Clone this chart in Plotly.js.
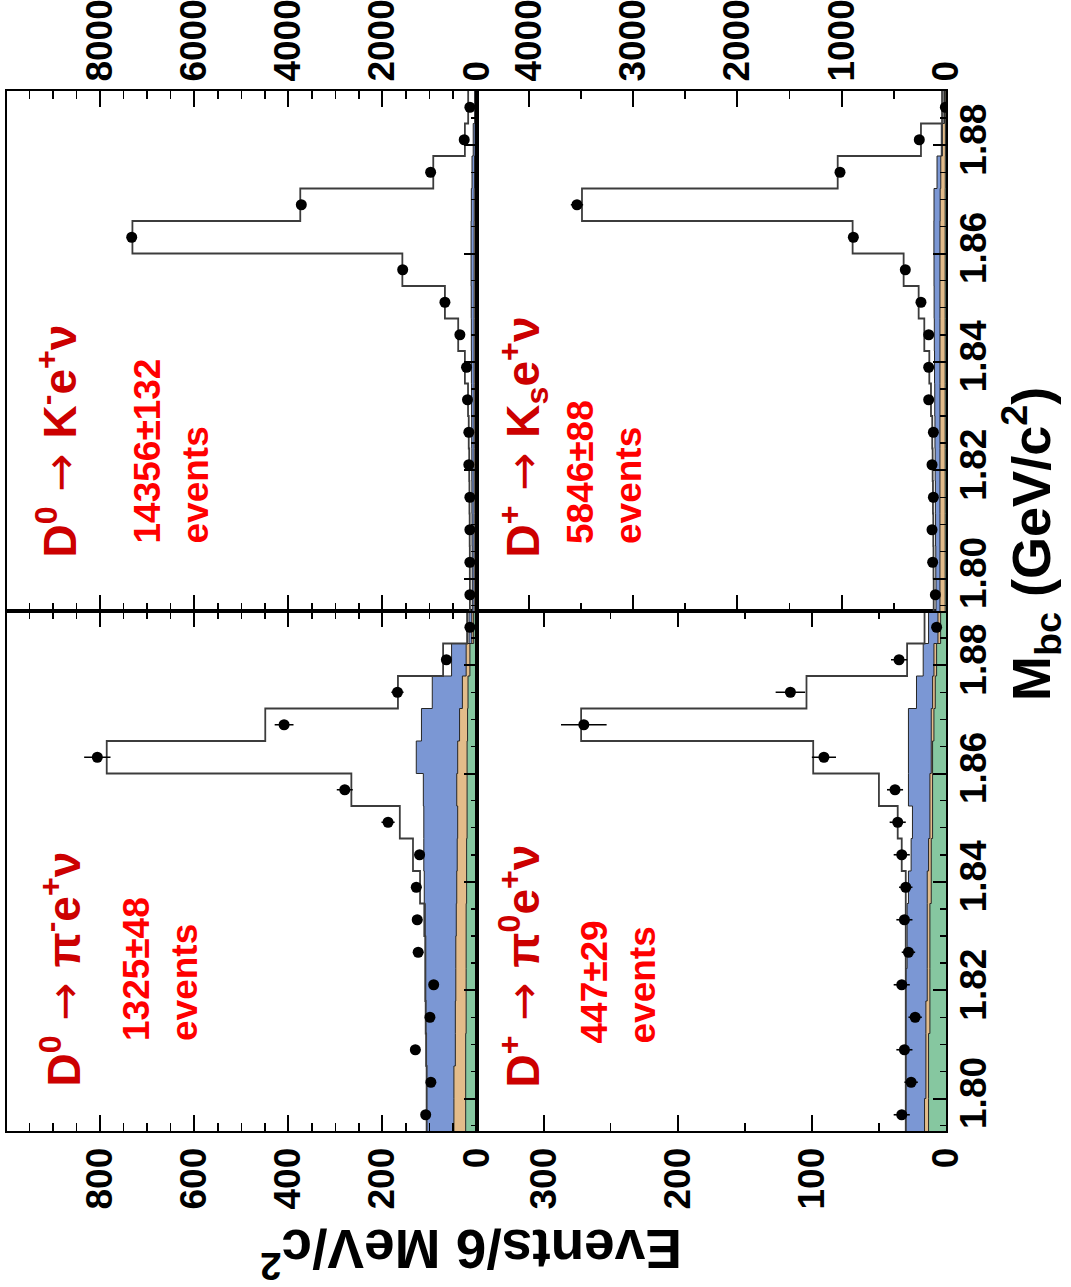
<!DOCTYPE html>
<html>
<head>
<meta charset="utf-8">
<script src="https://cdn.plot.ly/plotly-3.0.1.min.js"></script>
<style>
  html, body { margin: 0; padding: 0; background: #ffffff; }
  #chart { width: 1071px; height: 1287px; }
</style>
</head>
<body>
<div id="chart"></div>
<script>
// Mbc bin edges and centres, 6 MeV/c^2 bins (GeV/c^2)
const mbcEdges = [1.794, 1.800, 1.806, 1.812, 1.818, 1.824, 1.830, 1.836, 1.842,
                  1.848, 1.854, 1.860, 1.866, 1.872, 1.878, 1.884, 1.890];
const mbcCenters = [1.797, 1.803, 1.809, 1.815, 1.821, 1.827, 1.833, 1.839,
                    1.845, 1.851, 1.857, 1.863, 1.869, 1.875, 1.881, 1.887];

// D0 -> pi- e+ nu
const piMinusData  = [108, 97, 130, 99, 91, 124, 126, 128, 121, 188, 280, 806, 409, 168, 64, 14];
const piMinusErr   = [10, 10, 11, 10, 10, 11, 11, 11, 11, 14, 17, 28, 20, 13, 8, 4];
const piMinusFit   = [106, 106, 107, 108, 109, 109, 111, 120, 135, 163, 266, 786, 449, 167, 71, 20];
const piMinusBkgA  = [106, 106, 107, 108, 108, 108, 109, 111, 112, 112, 113, 128, 117, 94, 53, 16];
const piMinusBkgB  = [48, 48, 45, 45, 44, 44, 43, 42, 41, 40, 42, 40, 36, 30, 22, 10];
const piMinusBkgC  = [23, 23, 23, 22, 22, 22, 22, 21, 21, 20, 20, 20, 19, 18, 14, 6];

// D+ -> pi0 e+ nu
const piZeroData   = [33, 26, 31, 23, 33, 28, 31, 30, 33, 36, 38, 91, 270, 116, 35, 7];
const piZeroErr    = [6, 5, 6, 5, 6, 5, 6, 5, 6, 6, 6, 9, 17, 11, 6, 3];
const piZeroFit    = [30, 30, 30, 30, 30, 30, 30, 30, 33, 36, 50, 99, 272, 104, 29, 16];
const piZeroBkgA   = [30, 30, 30, 30, 30, 29, 29, 28, 26, 25, 28, 28, 28, 22, 17, 13];
const piZeroBkgB   = [16, 15, 15, 15, 14, 14, 14, 14, 13, 12, 12, 11, 11, 10, 9, 6];
const piZeroBkgC   = [13, 13, 13, 12, 12, 12, 12, 11, 11, 10, 10, 10, 9, 8, 7, 4];

// D0 -> K- e+ nu
const kMinusData   = [141, 141, 141, 141, 163, 163, 191, 212, 353, 671, 1569, 7329, 3724, 975, 261, 141];
const kMinusErr    = [12, 12, 12, 12, 13, 13, 14, 15, 19, 26, 40, 86, 61, 31, 16, 12];
const kMinusFit    = [140, 142, 145, 150, 155, 165, 180, 247, 389, 671, 1576, 7314, 3746, 919, 247, 177];
const kMinusBkgA   = [90, 92, 95, 98, 100, 102, 105, 108, 110, 112, 115, 115, 110, 95, 70, 40];
const kMinusBkgB   = [50, 50, 50, 50, 50, 50, 50, 50, 50, 50, 50, 50, 48, 42, 30, 15];
const kMinusBkgC   = [15, 15, 15, 15, 15, 15, 15, 15, 15, 15, 15, 15, 14, 12, 9, 5];

// D+ -> Ks e+ nu
const kShortData   = [102, 128, 134, 121, 134, 121, 166, 166, 166, 240, 390, 888, 3537, 1016, 256, 6];
const kShortErr    = [10, 11, 12, 11, 12, 11, 13, 13, 13, 15, 20, 30, 59, 32, 16, 2];
const kShortFit    = [118, 120, 122, 125, 128, 132, 144, 160, 208, 262, 406, 895, 3489, 1038, 240, 38];
const kShortBkgA   = [96, 98, 100, 102, 104, 106, 108, 110, 112, 114, 115, 116, 115, 86, 45, 20];
const kShortBkgB   = [58, 58, 58, 58, 58, 58, 58, 58, 58, 58, 58, 58, 56, 50, 35, 15];
const kShortBkgC   = [8, 8, 8, 8, 8, 8, 8, 8, 8, 8, 8, 8, 8, 7, 6, 3];

// Panel labels
const ARROW = '<span style="font-family:DejaVu Sans;font-weight:normal"> → </span>';
const decayLabels = [
  'D<sup>0</sup>' + ARROW + 'π<sup>-</sup>e<sup>+</sup>ν',
  'D<sup>+</sup>' + ARROW + 'π<sup>0</sup>e<sup>+</sup>ν',
  'D<sup>0</sup>' + ARROW + 'K<sup>-</sup>e<sup>+</sup>ν',
  'D<sup>+</sup>' + ARROW + 'K<sub>s</sub>e<sup>+</sup>ν'
];
const yieldLabels = ['1325±48', '447±29', '14356±132', '5846±88'];

const FONT = 'Liberation Sans, Arial, Helvetica, sans-serif';
const COL_A = '#7b97d4';   // combined background (outer layer)
const COL_B = '#e3bc8a';
const COL_C = '#86c7a0';

// step outline through bin edges: the last value is repeated at the upper edge
function stepX(vals) { return vals.concat([vals[vals.length - 1]]); }

function layer(vals, color, xa, ya) {
  return {
    type: 'scatter', mode: 'lines', x: stepX(vals), y: mbcEdges,
    line: { shape: 'vh', color: '#262626', width: 1 },
    fill: 'tozerox', fillcolor: color,
    xaxis: xa, yaxis: ya, hoverinfo: 'skip'
  };
}
function fitLine(vals, xa, ya) {
  return {
    type: 'scatter', mode: 'lines', x: stepX(vals), y: mbcEdges,
    line: { shape: 'vh', color: '#3c3c3c', width: 1.8 },
    xaxis: xa, yaxis: ya, hoverinfo: 'skip'
  };
}
function points(vals, errs, xa, ya) {
  return {
    type: 'scatter', mode: 'markers', x: vals, y: mbcCenters,
    marker: { color: '#000000', size: 11 },
    error_x: { type: 'data', array: errs, color: '#000000', thickness: 1.6, width: 0 },
    xaxis: xa, yaxis: ya
  };
}

const panels = [
  { xa: 'x',  ya: 'y',  d: piMinusData, e: piMinusErr, f: piMinusFit, a: piMinusBkgA, b: piMinusBkgB, c: piMinusBkgC },
  { xa: 'x2', ya: 'y2', d: piZeroData,  e: piZeroErr,  f: piZeroFit,  a: piZeroBkgA,  b: piZeroBkgB,  c: piZeroBkgC },
  { xa: 'x3', ya: 'y3', d: kMinusData,  e: kMinusErr,  f: kMinusFit,  a: kMinusBkgA,  b: kMinusBkgB,  c: kMinusBkgC },
  { xa: 'x4', ya: 'y4', d: kShortData,  e: kShortErr,  f: kShortFit,  a: kShortBkgA,  b: kShortBkgB,  c: kShortBkgC }
];

const traces = [];
panels.forEach(p => {
  traces.push(layer(p.a, COL_A, p.xa, p.ya));
  traces.push(layer(p.b, COL_B, p.xa, p.ya));
  traces.push(layer(p.c, COL_C, p.xa, p.ya));
  traces.push(fitLine(p.f, p.xa, p.ya));
  traces.push(points(p.d, p.e, p.xa, p.ya));
});

const tickFont = { family: FONT, size: 37, color: '#000000', weight: 'bold' };

function countAxis(domain, anchor, side, range, dtick, minorDtick) {
  return {
    domain: domain, anchor: anchor, side: side, range: range,
    dtick: dtick, tick0: 0, tickformat: 'd', tickangle: -90, tickfont: tickFont,
    ticks: 'inside', ticklen: 16, tickwidth: 2, tickcolor: '#000000',
    minor: { dtick: minorDtick, tick0: 0, ticks: 'inside', ticklen: 8, tickwidth: 1.5, tickcolor: '#000000' },
    showline: true, linecolor: '#000000', linewidth: 2, mirror: 'ticks',
    showgrid: false, zeroline: false, fixedrange: true
  };
}
function mbcAxis(domain, anchor, labels) {
  return {
    domain: domain, anchor: anchor, side: 'right', range: [1.794, 1.890],
    tick0: 1.80, dtick: 0.02, tickformat: '.2f', tickangle: -90,
    showticklabels: labels, tickfont: tickFont, ticklabelstandoff: -6,
    ticks: 'inside', ticklen: 13, tickwidth: 2, tickcolor: '#000000',
    minor: { dtick: 0.005, tick0: 1.80, ticks: 'inside', ticklen: 6, tickwidth: 1.5, tickcolor: '#000000' },
    showline: true, linecolor: '#000000', linewidth: 2, mirror: true,
    showgrid: false, zeroline: false, fixedrange: true
  };
}

// paper coordinates of the annotation anchor points
const W = 939, H = 1040, L = 7, T = 91;
const px = v => (v - L) / W;
const py = v => (T + H - v) / H;

function decay(text, xPix, yPix) {
  return {
    text: text, xref: 'paper', yref: 'paper', x: px(xPix), y: py(yPix),
    xanchor: 'center', yanchor: 'bottom', textangle: -90, showarrow: false,
    font: { family: FONT, size: 46, color: '#cc0000', weight: 'bold' }
  };
}
function yieldNote(text, xPix, yPix) {
  return {
    text: text + '<br>events', xref: 'paper', yref: 'paper', x: px(xPix), y: py(yPix),
    xanchor: 'center', yanchor: 'bottom', textangle: -90, align: 'left', showarrow: false,
    font: { family: FONT, size: 37, color: '#ff0000', weight: 'bold' }
  };
}

const layout = {
  width: 1071, height: 1287,
  margin: { l: L, r: 1071 - L - W, t: T, b: 1287 - T - H, pad: 0 },
  paper_bgcolor: '#ffffff', plot_bgcolor: '#ffffff',
  showlegend: false,
  font: { family: FONT, color: '#000000' },
  xaxis:  countAxis([0, 0.5], 'y',  'bottom', [998, 0], 200, 50),
  xaxis2: countAxis([0.5, 1], 'y2', 'bottom', [350, 0], 100, 50),
  xaxis3: countAxis([0, 0.5], 'y3', 'top',    [9980, 0], 2000, 500),
  xaxis4: countAxis([0.5, 1], 'y4', 'top',    [4500, 0], 1000, 500),
  yaxis:  mbcAxis([0, 0.5], 'x',  false),
  yaxis2: mbcAxis([0, 0.5], 'x2', true),
  yaxis3: mbcAxis([0.5, 1], 'x3', false),
  yaxis4: mbcAxis([0.5, 1], 'x4', true),
  annotations: [
    decay(decayLabels[0], 61, 1089),
    yieldNote(yieldLabels[0], 160, 1043),
    decay(decayLabels[1], 520, 1090),
    yieldNote(yieldLabels[1], 618, 1046),
    decay(decayLabels[2], 57, 560),
    yieldNote(yieldLabels[2], 171, 546),
    decay(decayLabels[3], 523, 560),
    yieldNote(yieldLabels[3], 604, 546),
    {
      text: 'M<sub>bc</sub> (GeV/c<sup>2</sup>)', xref: 'paper', yref: 'paper',
      x: px(1031), y: py(544), xanchor: 'center', yanchor: 'middle',
      textangle: -90, showarrow: false,
      font: { family: FONT, size: 54, color: '#000000', weight: 'bold' }
    },
    {
      text: 'Events/6 MeV/c<sup>2</sup>', xref: 'paper', yref: 'paper',
      x: px(471), y: py(1253), xanchor: 'center', yanchor: 'middle',
      textangle: 180, showarrow: false,
      font: { family: FONT, size: 55, color: '#000000', weight: 'bold' }
    }
  ]
};

Plotly.newPlot('chart', traces, layout, { staticPlot: true, displayModeBar: false });
</script>
</body>
</html>
